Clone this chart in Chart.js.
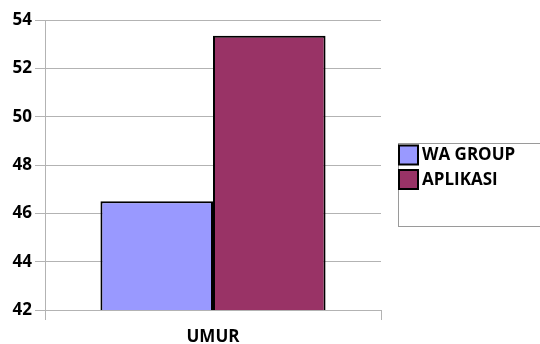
<!DOCTYPE html>
<html>
<head>
<meta charset="utf-8">
<style>
  html, body { margin: 0; padding: 0; background: #ffffff; }
  #wrap { width: 540px; height: 344px; position: relative; }
</style>
<script src="https://cdn.jsdelivr.net/npm/chart.js@4/dist/chart.umd.min.js"></script>
</head>
<body>
<div id="wrap"><canvas id="c" width="540" height="344"></canvas></div>
<script>
// Categories, series and axis ticks
const categories = ['UMUR'];
const seriesNames = ['WA GROUP', 'APLIKASI'];
const waGroup = [46.5];
const aplikasi = [53.35];
const yTicks = [42, 44, 46, 48, 50, 52, 54];

const FONT = '"Open Sans", "Noto Sans", sans-serif';
const GRID = '#b3b3b3';

// Boxed legend drawn to the right of the plot
const boxLegend = {
  id: 'boxLegend',
  afterDraw(chart) {
    const ctx = chart.ctx;
    const left = chart.chartArea.right + 17;
    const top = 143.5;
    ctx.save();
    ctx.strokeStyle = '#9a9a9a';
    ctx.lineWidth = 1;
    ctx.strokeRect(left + 0.5, top, 200, 83);
    ctx.font = 'bold 17px ' + FONT;
    ctx.textBaseline = 'middle';
    ctx.textAlign = 'left';
    chart.data.datasets.forEach((ds, i) => {
      const y = top + 2 + i * 24.5;
      ctx.fillStyle = ds.backgroundColor;
      ctx.fillRect(left + 1, y, 19, 19);
      ctx.strokeStyle = '#000000';
      ctx.lineWidth = 2;
      ctx.strokeRect(left + 1, y, 19, 19);
      ctx.fillStyle = '#000000';
      ctx.fillText(ds.label, left + 24, y + 10);
    });
    ctx.restore();
  }
};

new Chart(document.getElementById('c'), {
  type: 'bar',
  data: {
    labels: categories,
    datasets: [
      { label: seriesNames[0], data: waGroup, backgroundColor: '#9999ff', borderColor: '#000000', borderWidth: 2 },
      { label: seriesNames[1], data: aplikasi, backgroundColor: '#993366', borderColor: '#000000', borderWidth: 2 }
    ]
  },
  options: {
    responsive: false,
    animation: false,
    devicePixelRatio: 1,
    layout: { padding: { left: 0, right: 159, top: 20, bottom: 0 } },
    datasets: { bar: { categoryPercentage: 0.67, barPercentage: 1.0 } },
    plugins: { legend: { display: false }, tooltip: { enabled: false } },
    scales: {
      x: {
        offset: true,
        grid: { display: true, drawOnChartArea: false, drawTicks: true, tickLength: 10, color: GRID, offset: true },
        border: { display: false },
        ticks: { color: '#000000', font: { family: FONT, size: 17, weight: 'bold' }, padding: 7 },
        afterFit(scale) { scale.height = 34; }
      },
      y: {
        min: 42, max: 54,
        afterBuildTicks(scale) { scale.ticks = yTicks.map(v => ({ value: v })); },
        grid: { color: GRID, tickLength: 10, drawTicks: true },
        border: { display: true, color: GRID, width: 1 },
        ticks: { color: '#000000', font: { family: FONT, size: 17, weight: 'bold' }, padding: 3 },
        afterFit(scale) { scale.width = 45; }
      }
    }
  },
  plugins: [boxLegend]
});
</script>
</body>
</html>
